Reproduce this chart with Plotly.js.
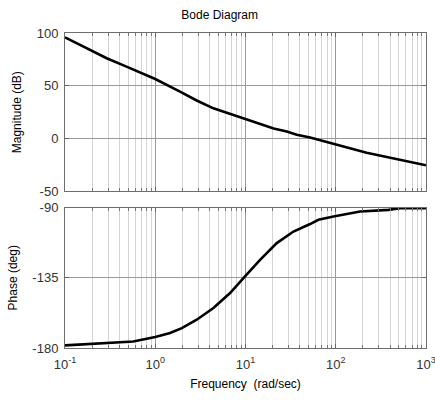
<!DOCTYPE html>
<html>
<head>
<meta charset="utf-8">
<script src="https://cdn.plot.ly/plotly-3.0.1.min.js"></script>
<style>html,body{margin:0;padding:0;background:#fff;}#chart{width:435px;height:400px;}</style>
</head>
<body>
<div id="chart"></div>
<script>
// Magnitude readings (rad/sec, dB)
var magFreq = [0.1, 0.29, 0.48, 1.0, 1.88, 2.88, 4.41, 6.75, 9.6, 20.5, 28.7, 37, 52, 94, 220, 1000];
var magDb   = [95.9, 76.1, 68.2, 56.4, 44.5, 36.1, 28.7, 23.4, 19.2, 9.6, 6.8, 3.6, 1.0, -4.7, -13.3, -25.3];

// Phase readings (rad/sec, deg)
var phFreq = [0.1, 0.29, 0.57, 1.0, 1.46, 1.97, 2.88, 4.41, 6.75, 9.48, 14.5, 22.2, 34, 52, 64.3, 94.4, 186, 384, 518, 1000];
var phDeg  = [-178.3, -176.8, -175.8, -173, -170.4, -167.3, -161.9, -154.4, -144.8, -135.2, -123.5, -112.8, -105.4, -100.6, -97.9, -95.8, -92.6, -91.5, -90.4, -90.4];

var decadeTicks = [0.1, 1, 10, 100, 1000];
var decadeLabels = ['10<sup>-1</sup>', '10<sup>0</sup>', '10<sup>1</sup>', '10<sup>2</sup>', '10<sup>3</sup>'];
var minorTicks = [];
[0.1, 1, 10, 100].forEach(function (d) {
  [2, 3, 4, 5, 6, 7, 8, 9].forEach(function (m) { minorTicks.push(+(m * d).toPrecision(3)); });
});
var magTicks = [-50, 0, 50, 100];
var magLabels = ['-50', '0', '50', '100'];
var phTicks = [-180, -135, -90];
var phLabels = ['-180', '-135', '-90'];

var fam = 'Liberation Sans, Arial, sans-serif';
var tickFont = {family: fam, size: 13, color: '#333'};
var titleFont = {family: fam, size: 12, color: '#000'};

var xCommon = {
  type: 'log',
  range: [-1.00001, 3.00001],
  tickmode: 'array',
  tickvals: decadeTicks,
  ticks: 'inside',
  ticklen: 4,
  tickcolor: '#666',
  showgrid: true,
  gridcolor: '#9a9a9a',
  gridwidth: 1,
  showline: true,
  linecolor: '#6e6e6e',
  linewidth: 1,
  mirror: 'ticks',
  zeroline: false,
  ticklabeloverflow: 'allow',
  minor: {tickmode: 'array', tickvals: minorTicks, ticks: 'inside', ticklen: 3, tickcolor: '#777', showgrid: true, gridcolor: '#d4d4d4', gridwidth: 1}
};

var yCommon = {
  tickmode: 'array',
  ticks: 'inside', ticklen: 4, tickcolor: '#666',
  showgrid: true, gridcolor: '#9a9a9a', zeroline: false,
  showline: true, linecolor: '#6e6e6e', mirror: 'ticks',
  tickfont: tickFont, ticklabelstandoff: 3
};

var traces = [
  {x: magFreq, y: magDb, xaxis: 'x2', yaxis: 'y2', mode: 'lines', line: {color: '#000', width: 2.6}, hoverinfo: 'skip'},
  {x: phFreq, y: phDeg, xaxis: 'x', yaxis: 'y', mode: 'lines', line: {color: '#000', width: 2.6}, hoverinfo: 'skip'}
];

var layout = {
  width: 435, height: 400,
  margin: {l: 65, r: 9, t: 33, b: 52, autoexpand: false},
  paper_bgcolor: '#fff', plot_bgcolor: '#fff',
  showlegend: false,
  font: tickFont,
  title: {text: 'Bode Diagram', font: titleFont, x: 0.505, xanchor: 'center', y: 0.962, yanchor: 'middle'},
  xaxis: Object.assign({}, xCommon, {
    anchor: 'y', domain: [0, 1], ticktext: decadeLabels,
    tickfont: tickFont, ticklabelstandoff: 4,
    title: {text: 'Frequency\u00a0\u00a0(rad/sec)', font: titleFont, standoff: 9}
  }),
  xaxis2: Object.assign({}, xCommon, {
    anchor: 'y2', domain: [0, 1], matches: 'x', showticklabels: false
  }),
  yaxis: Object.assign({}, yCommon, {
    anchor: 'x', domain: [0, 0.446], range: [-180, -90],
    tickvals: phTicks, ticktext: phLabels,
    title: {text: 'Phase (deg)', font: titleFont, standoff: 12}
  }),
  yaxis2: Object.assign({}, yCommon, {
    anchor: 'x2', domain: [0.497, 1], range: [-50, 100],
    tickvals: magTicks, ticktext: magLabels,
    title: {text: 'Magnitude (dB)', font: titleFont, standoff: 12}
  })
};

Plotly.newPlot('chart', traces, layout, {staticPlot: true, displayModeBar: false});
</script>
</body>
</html>
